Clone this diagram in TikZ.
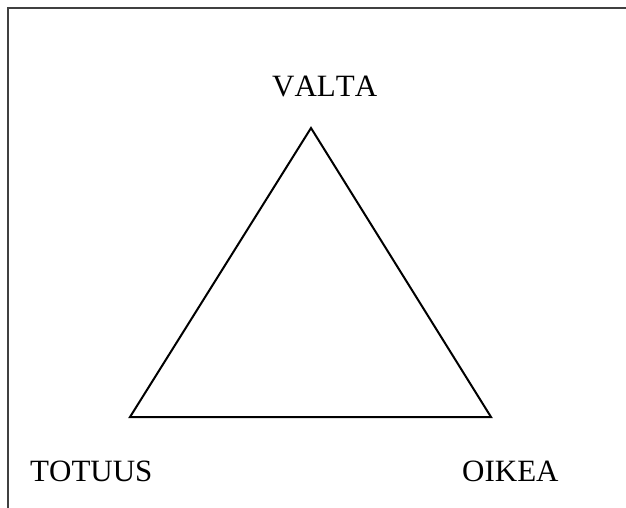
\documentclass[tikz,border=0pt]{standalone}
\usepackage{fontspec}
\setmainfont[Kerning=Off]{Liberation Serif}
\usepackage{tikz}
\usetikzlibrary{positioning}

\begin{document}
\begin{tikzpicture}[x=1pt,y=-1pt,
  corner/.style={font=\fontsize{31}{36}\selectfont,inner sep=0pt,anchor=base west},
  side/.style={line width=2pt,line join=miter}]
\useasboundingbox (0,0) rectangle (626,508);
\draw[line width=1.5pt,black!75] (8,508) -- (8,8) -- (626,8);
\coordinate (top)   at (311,128);
\coordinate (left)  at (130,417);
\coordinate (right) at (491,417);
\node[corner] (valta)  at (272,97)  {VALTA};
\node[corner] (totuus) at (30,481)  {TOTUUS};
\node[corner] (oikea)  at (462,481) {OIKEA};
\draw[side] (top) -- (right) -- (left) -- cycle;
\end{tikzpicture}
\end{document}
